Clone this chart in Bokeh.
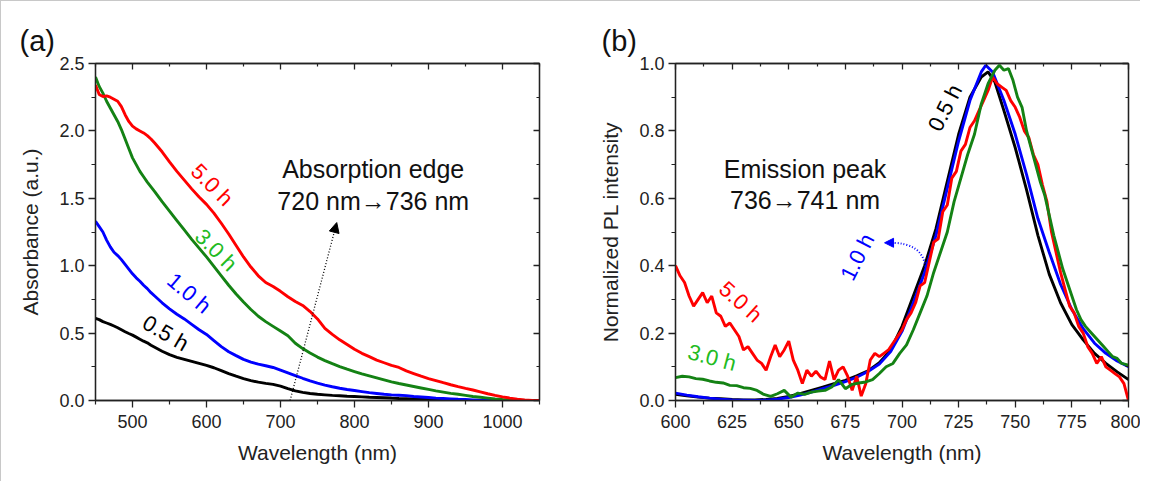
from bokeh.plotting import figure
from bokeh.models import Range1d, LinearAxis, FixedTicker, PrintfTickFormatter, Arrow, NormalHead
from bokeh.layouts import row
from bokeh.embed import file_html
from bokeh.resources import INLINE
from bokeh.core.properties import value

FONT = "Liberation Sans"

# ---------------- Panel (a): absorbance ----------------
abs_wl = [450, 455, 460, 465, 470, 475, 480, 485, 490, 495, 500, 505, 510, 515, 520, 525, 530,
          540, 550, 560, 570, 580, 590, 600, 610, 620, 630, 640, 650, 660, 670, 680, 690, 700,
          710, 720, 730, 740, 750, 760, 770, 780, 790, 800, 810, 820, 830, 840, 850, 860, 870,
          880, 890, 900, 910, 920, 930, 940, 950, 960, 970, 980, 990, 1000, 1010, 1020, 1030,
          1040, 1050]
abs_05h = [0.61, 0.60, 0.585, 0.575, 0.565, 0.553, 0.54, 0.525, 0.51, 0.497, 0.485, 0.47, 0.455,
           0.44, 0.428, 0.41, 0.395,
           0.365, 0.34, 0.32, 0.305, 0.29, 0.275, 0.26, 0.243, 0.222, 0.20, 0.18, 0.163, 0.148,
           0.136, 0.127, 0.12, 0.106, 0.088, 0.072, 0.06, 0.052, 0.046, 0.042, 0.038, 0.035,
           0.032, 0.03, 0.027, 0.024, 0.022, 0.02, 0.018, 0.015, 0.013, 0.011, 0.009, 0.008,
           0.006, 0.005, 0.003, 0.002, 0.001,
           0, 0, 0, 0, 0, 0, 0, 0, 0, 0]
abs_10h = [1.33, 1.29, 1.25, 1.19, 1.14, 1.10, 1.075, 1.045, 1.01, 0.975, 0.94, 0.91, 0.885,
           0.855, 0.83, 0.80, 0.775,
           0.725, 0.68, 0.64, 0.605, 0.565, 0.525, 0.49, 0.445, 0.40, 0.362, 0.333, 0.305,
           0.285, 0.27, 0.258, 0.245, 0.225, 0.205, 0.185, 0.165, 0.146, 0.129, 0.114, 0.102,
           0.091, 0.082, 0.074, 0.066, 0.058, 0.052, 0.046, 0.042, 0.039, 0.036, 0.030, 0.026,
           0.022, 0.018, 0.015, 0.012, 0.009, 0.007, 0.005, 0.003, 0.002, 0.001,
           0, 0, 0, 0, 0, 0]
abs_30h = [2.40, 2.33, 2.28, 2.22, 2.17, 2.12, 2.07, 2.01, 1.94, 1.87, 1.80, 1.75, 1.70, 1.66,
           1.62, 1.585, 1.55,
           1.475, 1.405, 1.335, 1.265, 1.195, 1.13, 1.065, 0.995, 0.925, 0.855, 0.79, 0.73,
           0.675, 0.625, 0.585, 0.55, 0.515, 0.48, 0.425, 0.385, 0.352, 0.322, 0.296, 0.273,
           0.252, 0.232, 0.215, 0.198, 0.183, 0.168, 0.153, 0.138, 0.126, 0.115, 0.104, 0.093,
           0.082, 0.071, 0.062, 0.053, 0.046, 0.038, 0.030, 0.024, 0.018, 0.012, 0.008, 0.005,
           0.002, 0, 0, 0]
abs_50h = [2.34, 2.27, 2.255, 2.26, 2.25, 2.235, 2.22, 2.18, 2.12, 2.07, 2.035, 2.015, 2.0,
           1.985, 1.965, 1.94, 1.91,
           1.845, 1.77, 1.70, 1.635, 1.57, 1.51, 1.455, 1.39, 1.315, 1.235, 1.15, 1.065, 0.99,
           0.925, 0.875, 0.845, 0.81, 0.77, 0.735, 0.705, 0.66, 0.605, 0.535, 0.49, 0.45, 0.415,
           0.38, 0.35, 0.325, 0.30, 0.28, 0.26, 0.245, 0.22, 0.20, 0.18, 0.163, 0.148, 0.132,
           0.117, 0.103, 0.09, 0.078, 0.064, 0.05, 0.038, 0.027, 0.018, 0.01, 0.004, 0, 0]

abs_label_text = ["5.0 h", "3.0 h", "1.0 h", "0.5 h"]
abs_label_x = [607.7, 613.1, 576.6, 544.9]
abs_label_y = [1.60, 1.117, 0.797, 0.50]
abs_label_angle = [-45, -45, -40, -30]
abs_label_color = ["#ff0000", "#22bb22", "#0000ff", "#000000"]

abs_note_text = ["Absorption edge", "720 nm\u2192736 nm"]
abs_note_x = [825.3, 825.3]
abs_note_y = [1.717, 1.48]

edge_arrow_x = [713, 776]
edge_arrow_y = [0.0, 1.32]

# ---------------- Panel (b): PL ----------------
pl_wl_05 = [600, 605, 610, 615, 620, 625, 630, 635, 640, 645, 650, 655, 660, 665, 670, 675, 680,
            685, 690, 695, 700, 705, 710, 715, 720, 725, 730, 735, 738, 741, 745, 750, 755, 760,
            765, 770, 775, 780, 785, 790, 795, 800]
pl_05h = [0.018, 0.014, 0.010, 0.007, 0.005, 0.003, 0.002, 0.002, 0.003, 0.006, 0.012, 0.020,
          0.030, 0.040, 0.050, 0.060, 0.073, 0.088, 0.112, 0.150, 0.22, 0.31, 0.40, 0.51, 0.65,
          0.79, 0.90, 0.96, 0.975, 0.945, 0.86, 0.75, 0.625, 0.49, 0.375, 0.29, 0.225, 0.18,
          0.14, 0.11, 0.085, 0.062]
pl_wl_10 = [600, 605, 610, 615, 620, 625, 630, 635, 640, 645, 650, 655, 660, 665, 670, 675, 680,
            685, 690, 695, 700, 705, 710, 715, 720, 725, 730, 735, 737, 740, 745, 750, 755, 760,
            765, 770, 775, 780, 785, 790, 795, 800]
pl_10h = [0.022, 0.016, 0.011, 0.007, 0.004, 0.002, 0.001, 0.0, 0.001, 0.004, 0.009, 0.016,
          0.025, 0.035, 0.045, 0.056, 0.069, 0.086, 0.108, 0.145, 0.205, 0.29, 0.38, 0.49, 0.63,
          0.77, 0.89, 0.975, 0.995, 0.975, 0.89, 0.79, 0.67, 0.54, 0.44, 0.345, 0.27, 0.213,
          0.17, 0.14, 0.117, 0.10]
pl_wl_30 = [600, 603, 606, 609, 612, 615, 618, 621, 624, 627, 630, 633, 636, 639, 642, 645, 648,
            651, 654, 657, 660, 663, 666, 669, 672, 675, 678, 681, 684, 687, 690, 693, 696, 699,
            702, 705, 708, 711, 714, 717, 720, 723, 726, 729, 732, 735, 738, 741, 743, 745, 747,
            749, 751, 753, 755, 757, 759, 761, 763, 765, 767, 769, 771, 773, 775, 777, 779, 781,
            783, 785, 787, 789, 791, 793, 795, 797, 800]
pl_30h = [0.068, 0.072, 0.070, 0.065, 0.063, 0.058, 0.054, 0.052, 0.045, 0.044, 0.038, 0.036,
          0.030, 0.018, 0.012, 0.020, 0.030, 0.010, 0.022, 0.018, 0.025, 0.028, 0.030, 0.040,
          0.062, 0.035, 0.048, 0.052, 0.055, 0.062, 0.080, 0.100, 0.110, 0.140, 0.165, 0.21,
          0.26, 0.31, 0.38, 0.44, 0.50, 0.59, 0.66, 0.73, 0.79, 0.88, 0.94, 0.98, 0.995, 0.98,
          0.985, 0.95, 0.90, 0.87, 0.80, 0.75, 0.70, 0.65, 0.61, 0.55, 0.49, 0.44, 0.39, 0.35,
          0.31, 0.27, 0.24, 0.22, 0.205, 0.19, 0.175, 0.16, 0.145, 0.13, 0.125, 0.11, 0.105]
pl_wl_50 = list(range(600, 801, 2))
pl_50h = [0.40, 0.37, 0.35, 0.31, 0.28, 0.30, 0.32, 0.29, 0.31, 0.26,
          0.25, 0.22, 0.23, 0.21, 0.19, 0.15, 0.16, 0.14, 0.12, 0.11,
          0.09, 0.13, 0.165, 0.13, 0.15, 0.176, 0.12, 0.09, 0.05, 0.09,
          0.072, 0.087, 0.07, 0.062, 0.117, 0.062, 0.09, 0.10, 0.072, 0.03,
          0.072, 0.013, 0.05, 0.12, 0.14, 0.13, 0.14, 0.15, 0.17, 0.19,
          0.21, 0.24, 0.26, 0.29, 0.34, 0.35, 0.41, 0.47, 0.48, 0.56,
          0.58, 0.66, 0.68, 0.74, 0.76, 0.81, 0.83, 0.86, 0.89, 0.92,
          0.96, 0.94, 0.93, 0.92, 0.89, 0.87, 0.84, 0.80, 0.78, 0.73,
          0.70, 0.64, 0.59, 0.50, 0.44, 0.38, 0.33, 0.28, 0.26, 0.22,
          0.20, 0.16, 0.14, 0.11, 0.13, 0.10, 0.09, 0.08, 0.07, 0.05,
          0.00]

pl_label_text = ["0.5 h", "1.0 h", "5.0 h", "3.0 h"]
pl_label_x = [719.0, 680.3, 628.8, 616.2]
pl_label_y = [0.8685, 0.426, 0.293, 0.127]
pl_label_angle = [63, 63, -42, -15]
pl_label_color = ["#000000", "#0000ff", "#ff0000", "#22bb22"]

pl_note_text = ["Emission peak", "736\u2192741 nm"]
pl_note_x = [657.2, 657.2]
pl_note_y = [0.687, 0.596]

blue_curve_x = [710.3, 709.0, 695.0]   # start, control, end
blue_curve_y = [0.397, 0.468, 0.468]
blue_head_x = [695.5, 692.3]
blue_head_y = [0.468, 0.468]

AX = "#222222"


def base_fig(title, xr, yr, width, mbl, mbr):
    p = figure(width=width, height=480, x_range=Range1d(*xr), y_range=Range1d(*yr),
               output_backend="svg", toolbar_location=None, title=title,
               min_border_left=mbl, min_border_right=mbr, min_border_top=62, min_border_bottom=81)
    p.xgrid.visible = False
    p.ygrid.visible = False
    p.outline_line_color = AX
    p.outline_line_width = 1.3
    p.title.text_font = FONT
    p.title.text_font_size = "29px"
    p.title.text_font_style = "normal"
    p.title.text_color = "#111111"
    p.title.align = "left"
    p.title.offset = -(mbl - 18)
    p.title.standoff = 14
    p.background_fill_color = "white"
    p.border_fill_color = "white"
    return p


def style_main(p, xt, xm, yt, ym, xlabel, ylabel):
    p.xaxis.ticker = FixedTicker(ticks=xt, minor_ticks=xm)
    p.yaxis.ticker = FixedTicker(ticks=yt, minor_ticks=ym)
    p.yaxis.formatter = PrintfTickFormatter(format="%.1f")
    p.xaxis.axis_label = xlabel
    p.yaxis.axis_label = ylabel
    for ax in (p.xaxis[0], p.yaxis[0]):
        ax.axis_line_color = AX
        ax.axis_line_width = 1.3
        ax.major_tick_line_color = AX
        ax.major_tick_line_width = 1.3
        ax.minor_tick_line_color = AX
        ax.minor_tick_line_width = 1.2
        ax.major_tick_in = 0
        ax.major_tick_out = 7
        ax.minor_tick_in = 0
        ax.minor_tick_out = 4
        ax.major_label_text_font = FONT
        ax.major_label_text_font_size = "18px"
        ax.major_label_text_color = AX
        ax.axis_label_text_font = FONT
        ax.axis_label_text_font_size = "21px"
        ax.axis_label_text_font_style = "normal"
        ax.axis_label_text_color = AX
    p.xaxis.major_label_standoff = 7
    p.xaxis.axis_label_standoff = 10
    p.yaxis.major_label_standoff = 4
    p.yaxis.axis_label_standoff = 14
    # mirror axes (ticks inside, no labels)
    for loc, t, m in (("above", xt, xm), ("right", yt, ym)):
        a = LinearAxis(ticker=FixedTicker(ticks=t, minor_ticks=m),
                       major_label_text_font_size="0px", major_label_text_alpha=0,
                       major_label_standoff=0,
                       axis_line_color=AX, axis_line_width=1.3,
                       major_tick_line_color=AX, major_tick_line_width=1.3,
                       minor_tick_line_color=AX, minor_tick_line_width=1.2,
                       major_tick_in=6, major_tick_out=0, minor_tick_in=3, minor_tick_out=0)
        p.add_layout(a, loc)


# ---------------- build panel (a) ----------------
pa = base_fig("(a)", (450, 1050), (0, 2.5), 582, 94, 44)
style_main(pa, [500, 600, 700, 800, 900, 1000], [450, 550, 650, 750, 850, 950, 1050],
           [0, 0.5, 1.0, 1.5, 2.0, 2.5], [0.25, 0.75, 1.25, 1.75, 2.25],
           "Wavelength (nm)", "Absorbance (a.u.)")
LW = 2.9
pa.line(abs_wl, abs_05h, line_color="#000000", line_width=LW)
pa.line(abs_wl, abs_10h, line_color="#0000ff", line_width=LW)
pa.line(abs_wl, abs_30h, line_color="#148214", line_width=LW)
pa.line(abs_wl, abs_50h, line_color="#ff0000", line_width=LW)
pa.text(x=abs_label_x, y=abs_label_y, text=abs_label_text, angle=abs_label_angle,
        angle_units="deg", text_color=abs_label_color, text_font=value(FONT),
        text_font_size="22px", text_align="center", text_baseline="middle")
pa.text(x=abs_note_x, y=abs_note_y, text=abs_note_text, text_color="#111111",
        text_font=value(FONT), text_font_size="25px", text_align="center",
        text_baseline="middle")
pa.add_layout(Arrow(x_start=edge_arrow_x[0], y_start=edge_arrow_y[0],
                    x_end=edge_arrow_x[1], y_end=edge_arrow_y[1],
                    line_color="#000000", line_width=1.3, line_dash="1 2",
                    end=NormalHead(size=10, fill_color="#000000", line_color="#000000",
                                   line_width=1)))

# ---------------- build panel (b) ----------------
pb = base_fig("(b)", (600, 800), (0, 1.0), 557, 92, 12)
style_main(pb, [600, 625, 650, 675, 700, 725, 750, 775, 800],
           [612.5, 637.5, 662.5, 687.5, 712.5, 737.5, 762.5, 787.5],
           [0, 0.2, 0.4, 0.6, 0.8, 1.0], [0.1, 0.3, 0.5, 0.7, 0.9],
           "Wavelength (nm)", "Normalized PL intensity")
pb.line(pl_wl_05, pl_05h, line_color="#000000", line_width=LW)
pb.line(pl_wl_10, pl_10h, line_color="#0000ff", line_width=LW)
pb.line(pl_wl_50, pl_50h, line_color="#ff0000", line_width=LW)
pb.line(pl_wl_30, pl_30h, line_color="#148214", line_width=LW)
pb.text(x=pl_label_x, y=pl_label_y, text=pl_label_text, angle=pl_label_angle,
        angle_units="deg", text_color=pl_label_color, text_font=value(FONT),
        text_font_size="22px", text_align="center", text_baseline="middle")
pb.text(x=pl_note_x, y=pl_note_y, text=pl_note_text, text_color="#111111",
        text_font=value(FONT), text_font_size="25px", text_align="center",
        text_baseline="middle")
pb.quadratic(x0=[blue_curve_x[0]], y0=[blue_curve_y[0]], cx=[blue_curve_x[1]],
             cy=[blue_curve_y[1]], x1=[blue_curve_x[2]], y1=[blue_curve_y[2]],
             line_color="#0000ff", line_width=2, line_dash="1 2")
pb.add_layout(Arrow(x_start=blue_head_x[0], y_start=blue_head_y[0],
                    x_end=blue_head_x[1], y_end=blue_head_y[1],
                    line_alpha=0,
                    end=NormalHead(size=9, fill_color="#0000ff", line_color="#0000ff",
                                   line_width=1)))

layout = row(pa, pb, styles={"border-top": "1px solid #c8c8c8",
                             "border-left": "1px solid #c8c8c8"})

with open("out.html", "w") as f:
    f.write(file_html(layout, INLINE))
